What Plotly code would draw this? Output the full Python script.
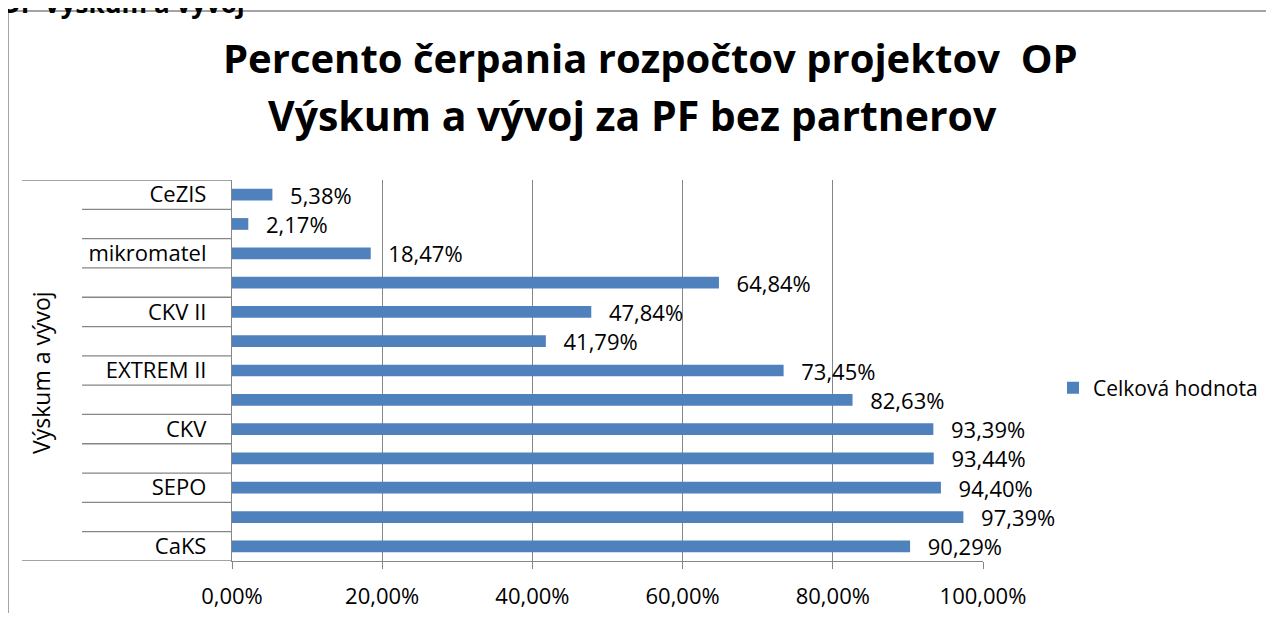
import plotly.graph_objects as go

# Data (bottom to top, as drawn)
labels = ["CaKS", "", "SEPO", "", "CKV", "", "EXTREM II", "", "CKV II", "", "mikromatel", "", "CeZIS"]
values = [90.29, 97.39, 94.40, 93.44, 93.39, 82.63, 73.45, 41.79, 47.84, 64.84, 18.47, 2.17, 5.38]
series_name = "Celková hodnota"
group_label = "Výskum a vývoj"
title_line1 = "Percento čerpania rozpočtov projektov  OP"
title_line2 = "Výskum a vývoj za PF bez partnerov"
header_text = "OP Výskum a vývoj"
x_ticks = [0, 0.2, 0.4, 0.6, 0.8, 1.0]

FONT = "Open Sans"
GRAY = "#868686"
OFF = 8  # browser body margin
W, H = 1290, 621 - 2 * OFF
# plot area in screenshot pixels
SL, SR, ST, SB = 232, 983, 180, 561
L, T = SL - OFF, ST - OFF
PW, PH = SR - SL, SB - ST


def px2paper_x(p):
    return (p - SL) / PW


def px2paper_y(p):
    return (SB - p) / PH


ypos = list(range(len(labels)))
fracs = [v / 100 for v in values]

fig = go.Figure()
fig.add_trace(go.Bar(
    x=fracs, y=ypos, orientation="h", name=series_name,
    marker=dict(color="#4F81BD", line=dict(width=0)),
    width=0.4,
    texttemplate="\u2002\u2009%{x:.2%}", textposition="outside", constraintext="none",
    textfont=dict(family=FONT, size=22, color="black"),
    cliponaxis=False, showlegend=True,
))

shapes = []
# chart area border
shapes.append(dict(type="rect", xref="paper", yref="paper",
                   x0=px2paper_x(8), x1=px2paper_x(1400),
                   y0=px2paper_y(700), y1=px2paper_y(11),
                   line=dict(color=GRAY, width=1.5), fillcolor="rgba(0,0,0,0)", layer="below"))
# category separators
n = len(labels)
for k in range(n + 1):
    yb = k - 0.5
    x0 = px2paper_x(22) if k in (0, n) else px2paper_x(82)
    shapes.append(dict(type="line", xref="paper", yref="y", x0=x0, x1=0, y0=yb, y1=yb,
                       line=dict(color=GRAY, width=1.3)))

annotations = [
    dict(text=group_label, xref="paper", yref="paper", x=px2paper_x(41), y=px2paper_y(372),
         textangle=-90, showarrow=False, font=dict(family=FONT, size=23, color="black"),
         xanchor="center", yanchor="middle"),
    dict(text="<b>" + header_text + "</b>", xref="paper", yref="paper",
         x=px2paper_x(-2), y=px2paper_y(23), xanchor="left", yanchor="bottom",
         showarrow=False, font=dict(family=FONT, size=26, color="black")),
    dict(text="<b>" + title_line1 + "</b>", xref="paper", yref="paper",
         x=px2paper_x(650), y=px2paper_y(58), xanchor="center", yanchor="middle",
         showarrow=False, font=dict(family=FONT, size=40, color="black")),
    dict(text="<b>" + title_line2 + "</b>", xref="paper", yref="paper",
         x=px2paper_x(632), y=px2paper_y(115), xanchor="center", yanchor="middle",
         showarrow=False, font=dict(family=FONT, size=41, color="black")),
]

fig.update_layout(
    width=W, height=H,
    margin=dict(l=L, r=W - L - PW, t=T, b=H - T - PH, pad=0, autoexpand=False),
    paper_bgcolor="white", plot_bgcolor="white",
    separators=", ",
    font=dict(family=FONT, size=22, color="black"),
    xaxis=dict(range=[0, 1], tickvals=x_ticks, tickformat=".2%",
               showgrid=True, gridcolor=GRAY, gridwidth=1.3,
               showline=True, linecolor=GRAY, linewidth=1.3,
               ticks="outside", ticklen=7, tickcolor=GRAY, tickwidth=1.3,
               ticklabelstandoff=8, automargin=False,
               tickfont=dict(family=FONT, size=22, color="black"), zeroline=False,
               fixedrange=True),
    yaxis=dict(range=[-0.5, n - 0.5], tickvals=ypos, ticktext=labels,
               showgrid=False, showline=True, linecolor=GRAY, linewidth=1.3,
               ticks="", ticklabelstandoff=20, automargin=False,
               tickfont=dict(family=FONT, size=22, color="black"), zeroline=False),
    legend=dict(x=px2paper_x(1053), y=px2paper_y(388), xanchor="left", yanchor="middle",
                font=dict(family=FONT, size=21, color="black"), bgcolor="rgba(0,0,0,0)"),
    shapes=shapes, annotations=annotations,
)

fig.write_html("out.html")
